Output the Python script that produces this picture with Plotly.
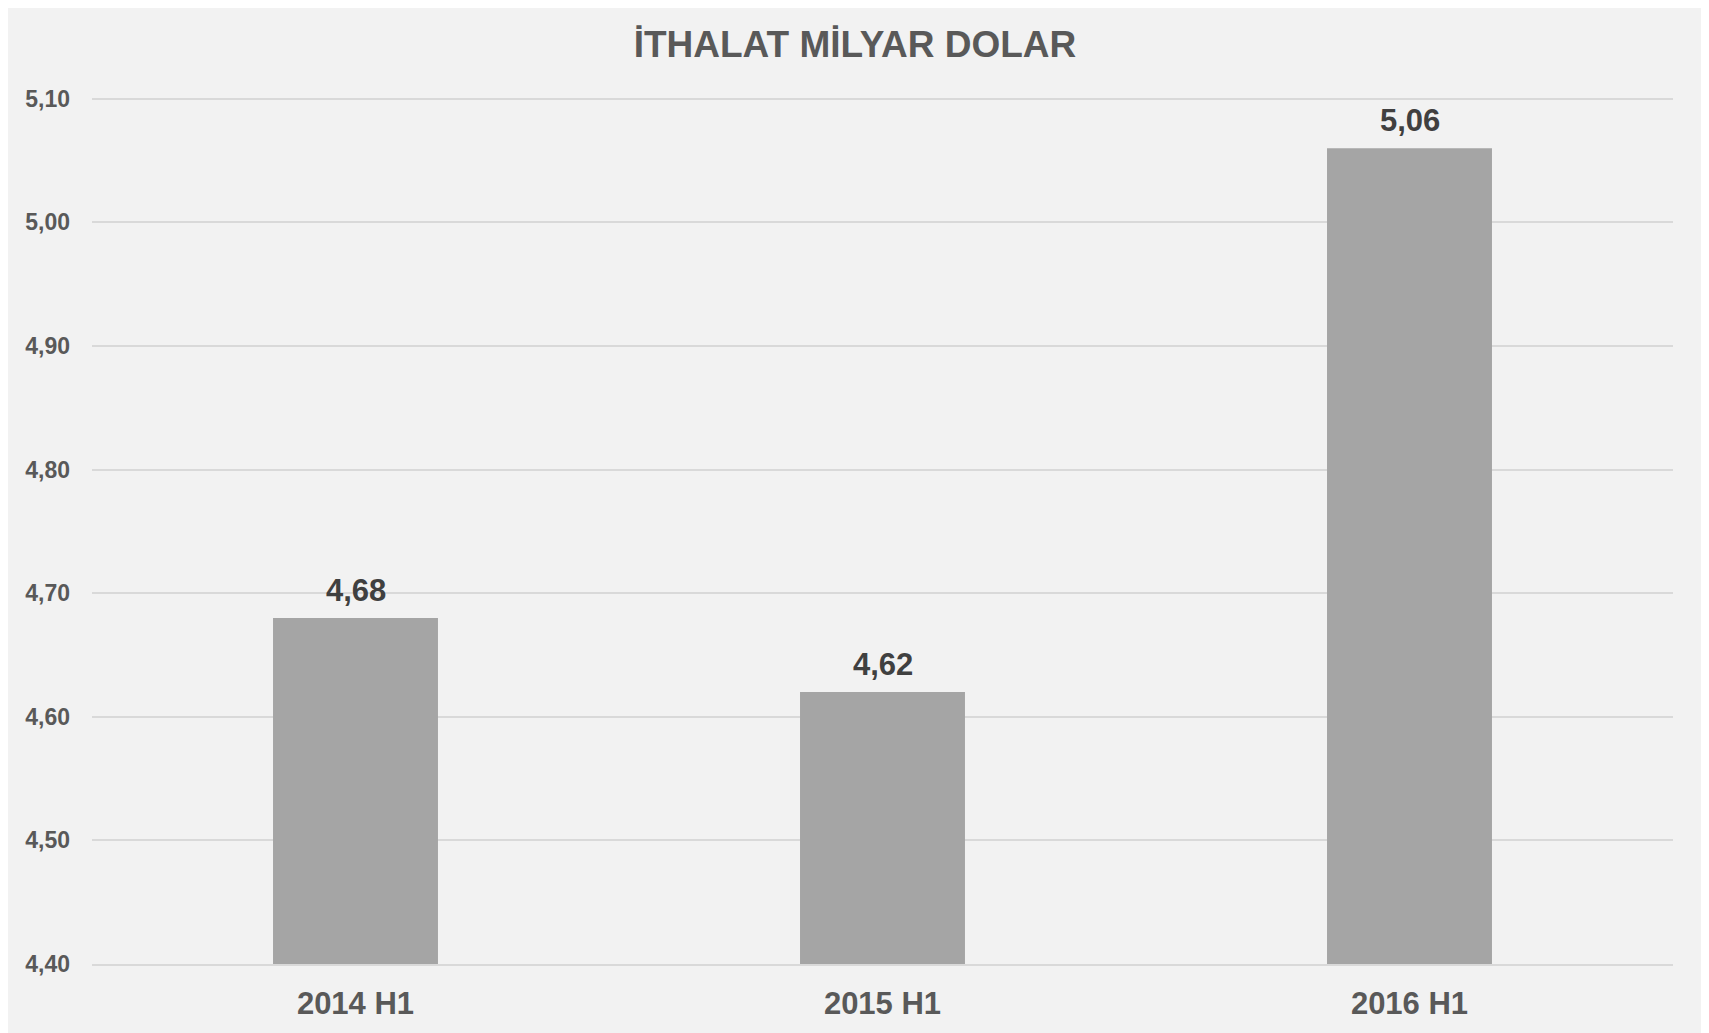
import plotly.graph_objects as go

categories = ["2014 H1", "2015 H1", "2016 H1"]
values = [4.68, 4.62, 5.06]
y_ticks = [4.40, 4.50, 4.60, 4.70, 4.80, 4.90, 5.00, 5.10]

# the page body adds an 8px offset; size the figure so the layout lands where the reference has it
OFF = 8
W, H = 1709 - OFF, 1033 - OFF
L, T = 92 - OFF, 99 - OFF - 4
R = 1709 - 1673
B = H - (968 - OFF)

FONT = "Liberation Sans, Arial"

fig = go.Figure()
fig.add_trace(go.Bar(
    x=categories, y=values,
    marker=dict(color="#a5a5a5", line=dict(width=0)),
    textposition="none",
    hoverinfo="x+y",
))
for c, v in zip(categories, values):
    fig.add_annotation(x=c, y=v, text="<b>" + f"{v:.2f}".replace(".", ",") + "</b>",
                       showarrow=False, yanchor="bottom", yshift=8,
                       font=dict(family=FONT, size=31, color="#404040"))

fig.update_layout(
    width=W, height=H,
    margin=dict(l=L, r=R, t=T, b=B, pad=0),
    paper_bgcolor="#f2f2f2", plot_bgcolor="rgba(0,0,0,0)",
    separators=",.",
    bargap=0.687,
    showlegend=False,
    title=dict(text="<b>İTHALAT MİLYAR DOLAR</b>", x=(855 - OFF) / W, xanchor="center",
               y=1 - (44 - OFF) / H, yanchor="middle", yref="container",
               font=dict(family=FONT, size=37, color="#595959")),
    font=dict(family=FONT, color="#595959"),
)
fig.update_yaxes(range=[4.4, 5.103], tickvals=y_ticks,
                 ticktext=["<b>" + f"{t:.2f}".replace(".", ",") + "</b>" for t in y_ticks],
                 showgrid=True, gridcolor="#d9d9d9", gridwidth=2,
                 zeroline=False, showline=False, ticks="", ticklabelstandoff=21,
                 tickfont=dict(size=23, color="#595959"))
fig.update_xaxes(showline=True, linecolor="#d9d9d9", linewidth=2, ticks="",
                 ticktext=[f"<b>{c}</b>" for c in categories], tickvals=categories,
                 ticklabelstandoff=11,
                 tickfont=dict(size=31, color="#595959"))

fig.write_html("out.html")
